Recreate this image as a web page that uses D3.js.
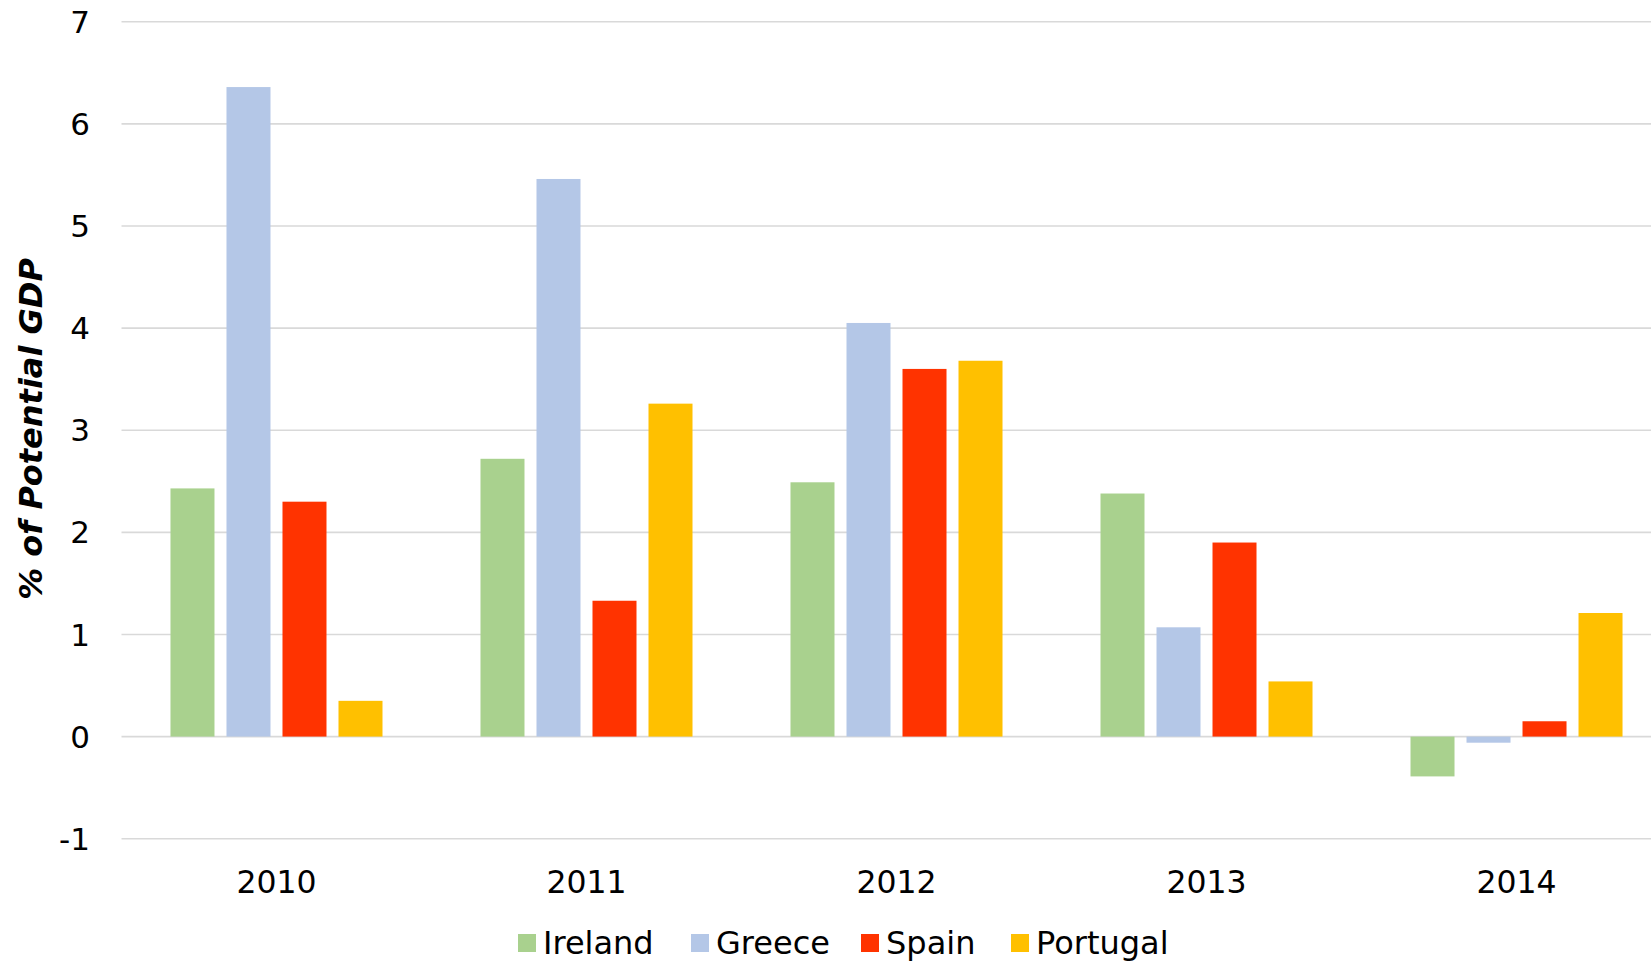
<!DOCTYPE html>
<html>
<head>
<meta charset="utf-8">
<script src="https://cdn.jsdelivr.net/npm/d3@7"></script>
<style>
  html, body { margin: 0; padding: 0; background: #fff; }
  svg { display: block; }
</style>
</head>
<body>
<svg id="chart" width="1651" height="963"></svg>
<script>
const years = ["2010", "2011", "2012", "2013", "2014"];
const seriesNames = ["Ireland", "Greece", "Spain", "Portugal"];
const ireland  = [2.43, 2.72, 2.49, 2.38, -0.39];
const greece   = [6.36, 5.46, 4.05, 1.07, -0.06];
const spain    = [2.30, 1.33, 3.60, 1.90, 0.15];
const portugal = [0.35, 3.26, 3.68, 0.54, 1.21];
const yTicks = [-1, 0, 1, 2, 3, 4, 5, 6, 7];
const colors = ["#a9d18e", "#b4c7e7", "#ff3300", "#ffc000"];
const yTitle = "% of Potential GDP";

const seriesValues = [ireland, greece, spain, portugal];
const data = years.map((yr, i) => ({
  year: yr,
  values: seriesNames.map((s, j) => ({ key: s, value: seriesValues[j][i], color: colors[j] }))
}));

const svg = d3.select("#chart");
const font = "'DejaVu Sans', Verdana, sans-serif";

const y = d3.scaleLinear().domain([-1, 7]).range([838.7, 21.7]);
const x0 = d3.scaleBand().domain(years).range([121.5, 1671.5]).paddingInner(0.3161).paddingOuter(0.158);
const x1 = d3.scaleBand().domain(seriesNames).range([0, x0.bandwidth()]).paddingInner(0.2143).paddingOuter(0);

// gridlines
svg.append("g").selectAll("line").data(yTicks).join("line")
  .attr("x1", 121.5).attr("x2", 1651)
  .attr("y1", d => y(d)).attr("y2", d => y(d))
  .attr("stroke", "#d9d9d9").attr("stroke-width", 1.6);

// y tick labels
svg.append("g").selectAll("text").data(yTicks).join("text")
  .attr("x", 90).attr("y", d => y(d))
  .attr("dy", "0.36em")
  .attr("text-anchor", "end")
  .style("font-family", font).style("font-size", "31px").attr("fill", "#000")
  .text(d => d);

// bars
const groups = svg.append("g").selectAll("g").data(data).join("g")
  .attr("transform", d => `translate(${x0(d.year)},0)`);
groups.selectAll("rect").data(d => d.values).join("rect")
  .attr("x", d => x1(d.key))
  .attr("width", x1.bandwidth())
  .attr("y", d => y(Math.max(0, d.value)))
  .attr("height", d => Math.abs(y(d.value) - y(0)))
  .attr("fill", d => d.color);

// x labels
svg.append("g").selectAll("text").data(years).join("text")
  .attr("x", d => x0(d) + x0.bandwidth() / 2)
  .attr("y", 893)
  .attr("text-anchor", "middle")
  .style("font-family", font).style("font-size", "31.5px").attr("fill", "#000")
  .text(d => d);

// y title
svg.append("text")
  .attr("transform", "translate(42,429) rotate(-90)")
  .attr("text-anchor", "middle")
  .style("font-family", font).style("font-size", "32px")
  .style("font-weight", "bold").style("font-style", "italic")
  .attr("fill", "#000")
  .text(yTitle);

// legend
const legendX = [518, 691, 861, 1011];
const leg = svg.append("g").selectAll("g").data(seriesNames).join("g")
  .attr("transform", (d, i) => `translate(${legendX[i]},0)`);
leg.append("rect").attr("x", 0).attr("y", 934).attr("width", 18).attr("height", 18)
  .attr("fill", (d, i) => colors[i]);
leg.append("text").attr("x", 25).attr("y", 954)
  .style("font-family", font).style("font-size", "32px").attr("fill", "#000")
  .text(d => d);
</script>
</body>
</html>
